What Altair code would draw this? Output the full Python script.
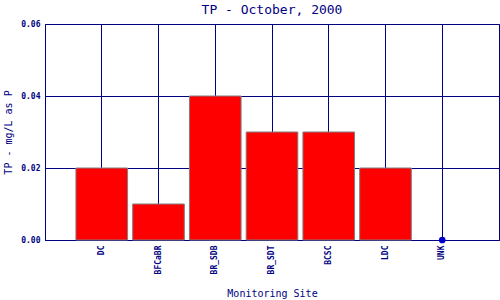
import altair as alt
import pandas as pd

sites = ["DC", "BFCaBR", "BR_SDB", "BR_SDT", "BCSC", "LDC", "UNK"]
values = [0.02, 0.01, 0.04, 0.03, 0.03, 0.02, 0.0]
y_ticks = [0.0, 0.02, 0.04, 0.06]

df = pd.DataFrame({"site": sites, "tp": values})

NAVY = "#000080"
FONT = "DejaVu Sans Mono"

x_enc = alt.X(
    "site:N",
    sort=sites,
    scale=alt.Scale(domain=sites, paddingInner=0.09, paddingOuter=0.545),
    axis=alt.Axis(
        title="Monitoring Site",
        labelAngle=270,
        labelFont=FONT,
        labelFontSize=8,
        labelFontWeight="bold",
        labelColor=NAVY,
        labelPadding=5,
        ticks=False,
        grid=True,
        gridColor=NAVY,
        gridOpacity=1,
        gridWidth=1,
        bandPosition=0.5,
        domainColor=NAVY,
        domainWidth=1,
        titleFont=FONT,
        titleFontSize=10,
        titleFontWeight="normal",
        titleColor=NAVY,
        titleY=48,
        titleBaseline="top",
    ),
)

y_enc = alt.Y(
    "tp:Q",
    scale=alt.Scale(domain=[0, 0.06], nice=False),
    axis=alt.Axis(
        title="TP - mg/L as P",
        values=y_ticks,
        format=".2f",
        labelFont=FONT,
        labelFontSize=8,
        labelFontWeight="bold",
        labelColor=NAVY,
        labelPadding=5,
        labelFlush=False,
        ticks=False,
        grid=True,
        gridColor=NAVY,
        gridOpacity=1,
        gridWidth=1,
        domainColor=NAVY,
        domainWidth=1,
        titleFont=FONT,
        titleFontSize=10,
        titleFontWeight="normal",
        titleColor=NAVY,
        titleX=-37,
        titleY=108,
        titleAlign="center",
        titleBaseline="middle",
    ),
)

bars = alt.Chart(df).transform_filter("datum.tp > 0").mark_bar(
    color="#FF0000", stroke="#808080", strokeWidth=1, opacity=1
).encode(x=x_enc, y=y_enc)

pts = alt.Chart(df).transform_filter("datum.tp == 0").mark_circle(
    color="#0000CD", size=45, opacity=1
).encode(x=x_enc, y=y_enc)

chart = (
    alt.layer(bars, pts)
    .properties(
        width=454,
        height=216,
        autosize=alt.AutoSizeParams(type="none"),
        padding={"left": 45, "top": 24, "right": 1, "bottom": 60},
        title=alt.TitleParams(
            "TP - October, 2000",
            font=FONT,
            fontSize=13,
            fontWeight="normal",
            color=NAVY,
            anchor="middle",
            offset=3,
        ),
        background="white",
    )
    .configure_view(stroke=NAVY, strokeWidth=1)
)

chart.save("out.html", embed_options={"renderer": "svg", "actions": False})
